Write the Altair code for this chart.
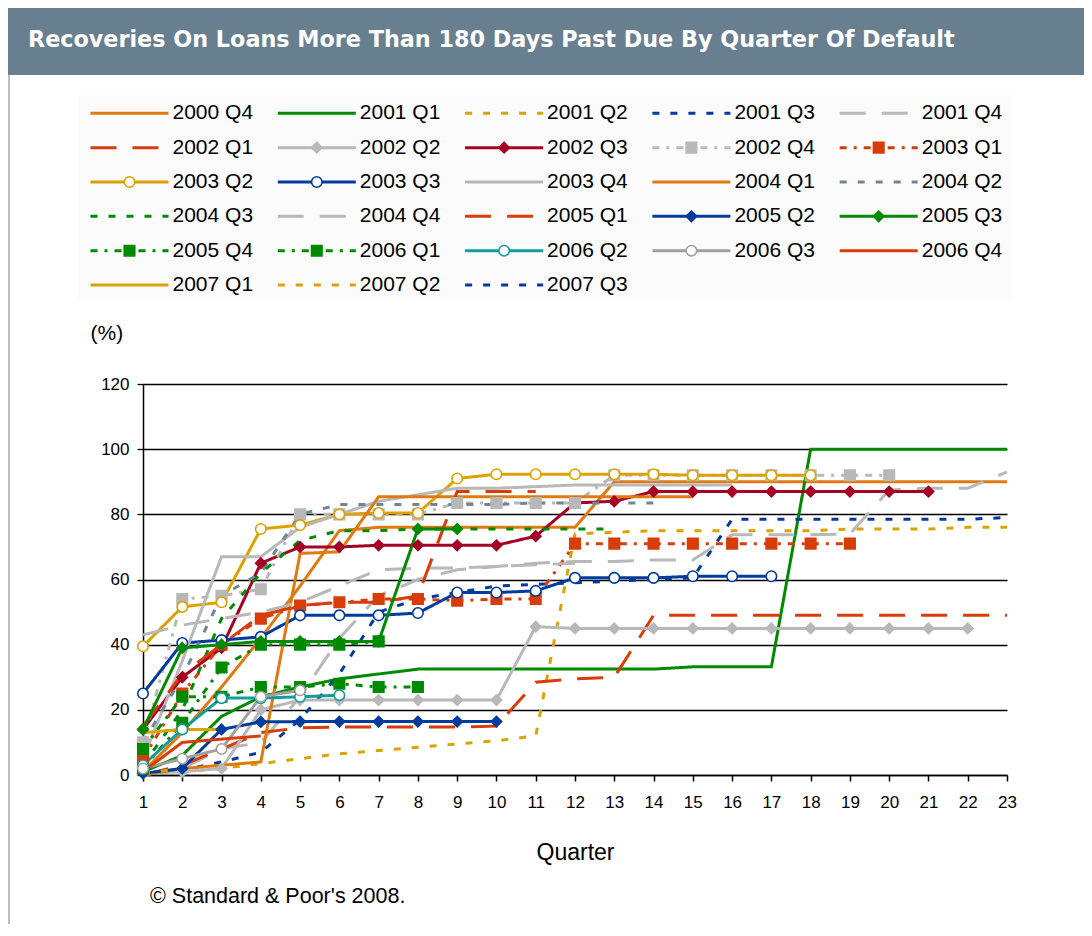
import altair as alt
import pandas as pd

# ---------------- data ----------------
series_names = [
    "2000 Q4", "2001 Q1", "2001 Q2", "2001 Q3", "2001 Q4",
    "2002 Q1", "2002 Q2", "2002 Q3", "2002 Q4", "2003 Q1",
    "2003 Q2", "2003 Q3", "2003 Q4", "2004 Q1", "2004 Q2",
    "2004 Q3", "2004 Q4", "2005 Q1", "2005 Q2", "2005 Q3",
    "2005 Q4", "2006 Q1", "2006 Q2", "2006 Q3", "2006 Q4",
    "2007 Q1", "2007 Q2", "2007 Q3",
]

v_2000q4 = [1, 13, 27, 42, 58, 75, 76, 76, 76, 76, 76, 76, 90, 90, 90, 90, 90, 90, 90, 90, 90, 90, 90]
v_2001q1 = [1, 6, 18, 24, 27, 29.5, 31, 32.5, 32.5, 32.5, 32.5, 32.5, 32.5, 32.5, 33.2, 33.2, 33.2, 100, 100, 100, 100, 100, 100]
v_2001q2 = [0.5, 1, 2, 3.5, 5, 6.5, 7.5, 8.5, 9.5, 10.5, 12, 74, 74.5, 75, 75, 75, 75, 75, 75.5, 75.5, 75.5, 76, 76]
v_2001q3 = [0.5, 1.5, 4, 7, 17, 31, 50, 54, 56, 58, 58.5, 59, 59.5, 60, 60.5, 78.5, 78.5, 78.5, 78.5, 78.5, 78.5, 78.5, 79]
v_2001q4 = [0, 2, 8, 10, 24, 42, 55, 60, 63, 64, 65, 65.5, 65.5, 66, 66, 73.7, 73.7, 73.7, 74, 87.5, 88, 88, 93]
v_2002q1 = [0, 3, 8, 13, 14.5, 14.7, 14.7, 14.7, 14.7, 15, 28.5, 29.5, 30, 49, 49, 49, 49, 49, 49, 49, 49, 49, 49]
v_2002q2 = [0.5, 1, 2, 20, 23, 23, 23, 23, 23, 23, 45.5, 45, 45, 45, 45, 45, 45, 45, 45, 45, 45, 45]
v_2002q3 = [14, 30, 39, 65, 70, 70, 70.5, 70.5, 70.5, 70.5, 73.3, 83.5, 84, 87, 87, 87, 87, 87, 87, 87, 87]
v_2002q4 = [10, 54, 55, 57, 80, 80, 80, 80, 83.5, 83.5, 83.5, 83.5, 92, 92, 92, 92, 92, 92, 92, 92]
v_2003q1 = [5, 25, 40, 48, 52, 53, 54, 54, 53.5, 54, 54, 71, 71, 71, 71, 71, 71, 71, 71]
v_2003q2 = [39.5, 51.6, 53, 75.5, 76.7, 80, 80.4, 80.4, 91, 92.3, 92.3, 92.3, 92.3, 92.3, 92, 92, 92, 92]
v_2003q3 = [25, 40.5, 41.4, 42.4, 49, 49, 49, 49.7, 56, 56, 56.5, 60.5, 60.5, 60.5, 61, 61, 61]
v_2003q4 = [5, 35, 67, 67, 76, 80, 84, 86, 88, 88, 88.5, 89, 89, 89, 89, 89]
v_2004q1 = [0, 2, 3, 4, 68, 68.5, 85.4, 85.4, 85.4, 85.4, 85.4, 85.4, 85.4, 85.4, 85.4]
v_2004q2 = [10, 30, 55, 62, 80, 83, 83, 83, 83, 83, 83.5, 83.5, 83.5, 83.5]
v_2004q3 = [3, 20, 48, 62, 72, 75, 75, 75.5, 75.5, 75.5, 75.5, 75.5, 75.5]
v_2004q4 = [43, 46, 48, 50, 53, 58, 63, 63.5, 63.5, 64, 64.5, 65]
v_2005q1 = [15, 31, 40, 49, 52, 53, 53, 55, 87, 87, 87]
v_2005q2 = [0.5, 2, 14, 16.3, 16.4, 16.4, 16.4, 16.4, 16.4, 16.4]
v_2005q3 = [14, 39, 40, 41, 41, 41, 41, 75.5, 75.5]
v_2005q4 = [8, 24, 24, 27, 27, 28, 27, 27]
v_2006q1 = [2, 16, 33, 40, 40, 40, 41]
v_2006q2 = [3, 14, 23.6, 23.6, 24, 24.5]
v_2006q3 = [2, 5, 8, 24, 26]
v_2006q4 = [1, 10, 11, 12]
v_2007q1 = [13, 14, 14]
v_2007q2 = [0.5, 2]
v_2007q3 = [1]

all_values = [
    v_2000q4, v_2001q1, v_2001q2, v_2001q3, v_2001q4,
    v_2002q1, v_2002q2, v_2002q3, v_2002q4, v_2003q1,
    v_2003q2, v_2003q3, v_2003q4, v_2004q1, v_2004q2,
    v_2004q3, v_2004q4, v_2005q1, v_2005q2, v_2005q3,
    v_2005q4, v_2006q1, v_2006q2, v_2006q3, v_2006q4,
    v_2007q1, v_2007q2, v_2007q3,
]

x_tick_values = list(range(1, 24))
y_tick_values = [0, 20, 40, 60, 80, 100, 120]

# ---------------- styles ----------------
ORANGE = "#E07A10"
GREEN = "#008A00"
GOLD = "#DCA200"
BLUE = "#003C9E"
GRAY = "#B8B8B8"
GRAY2 = "#A0A0A0"
REDOR = "#D83C08"
CRIMSON = "#A50025"
SLATE = "#6E8797"
TEAL = "#149C9C"

DASHES = {"solid": [1, 0], "dot": [7, 11], "long": [26, 16], "dashdot": [7, 7, 3, 7]}

# name: (color, dash, marker shape, marker fill)
style = {
    "2000 Q4": (ORANGE, "solid", None, None),
    "2001 Q1": (GREEN, "solid", None, None),
    "2001 Q2": (GOLD, "dot", None, None),
    "2001 Q3": (BLUE, "dot", None, None),
    "2001 Q4": (GRAY, "long", None, None),
    "2002 Q1": (REDOR, "long", None, None),
    "2002 Q2": (GRAY, "solid", "diamond", GRAY),
    "2002 Q3": (CRIMSON, "solid", "diamond", CRIMSON),
    "2002 Q4": (GRAY, "dashdot", "square", GRAY),
    "2003 Q1": (REDOR, "dashdot", "square", REDOR),
    "2003 Q2": (GOLD, "solid", "circle", "white"),
    "2003 Q3": (BLUE, "solid", "circle", "white"),
    "2003 Q4": (GRAY, "solid", None, None),
    "2004 Q1": (ORANGE, "solid", None, None),
    "2004 Q2": (SLATE, "dot", None, None),
    "2004 Q3": (GREEN, "dot", None, None),
    "2004 Q4": (GRAY, "long", None, None),
    "2005 Q1": (REDOR, "long", None, None),
    "2005 Q2": (BLUE, "solid", "diamond", BLUE),
    "2005 Q3": (GREEN, "solid", "diamond", GREEN),
    "2005 Q4": (GREEN, "dashdot", "square", GREEN),
    "2006 Q1": (GREEN, "dashdot", "square", GREEN),
    "2006 Q2": (TEAL, "solid", "circle", "white"),
    "2006 Q3": (GRAY2, "solid", "circle", "white"),
    "2006 Q4": (REDOR, "solid", None, None),
    "2007 Q1": (GOLD, "solid", None, None),
    "2007 Q2": (GOLD, "dot", None, None),
    "2007 Q3": (BLUE, "dot", None, None),
}
MARKER_SIZE = {"diamond": 110, "square": 95, "circle": 70}

colors = [style[n][0] for n in series_names]
dashes = [DASHES[style[n][1]] for n in series_names]
mk_names = [n for n in series_names if style[n][2]]
mk_shapes = [style[n][2] for n in mk_names]
mk_fills = [style[n][3] for n in mk_names]
mk_strokes = [style[n][0] for n in mk_names]
mk_sizes = [MARKER_SIZE[style[n][2]] for n in mk_names]

FONT = "Liberation Sans"
TITLE_FONT = "DejaVu Sans"
W, H = 864, 391

rows = []
for name, vals in zip(series_names, all_values):
    for i, v in enumerate(vals):
        rows.append({"series": name, "quarter": i + 1, "value": v,
                     "marker": bool(style[name][2])})
df = pd.DataFrame(rows)

leg = pd.DataFrame({"series": series_names,
                    "col": [i % 5 for i in range(len(series_names))],
                    "row": [i // 5 for i in range(len(series_names))],
                    "marker": [bool(style[n][2]) for n in series_names]})

color_enc = alt.Color("series:N", scale=alt.Scale(domain=series_names, range=colors), legend=None)
dash_enc = alt.StrokeDash("series:N", scale=alt.Scale(domain=series_names, range=dashes), legend=None)
shape_enc = alt.Shape("series:N", scale=alt.Scale(domain=mk_names, range=mk_shapes), legend=None)
fill_enc = alt.Fill("series:N", scale=alt.Scale(domain=mk_names, range=mk_fills), legend=None)
stroke_enc = alt.Stroke("series:N", scale=alt.Scale(domain=mk_names, range=mk_strokes), legend=None)
size_enc = alt.Size("series:N", scale=alt.Scale(domain=mk_names, range=mk_sizes), legend=None)

x_axis = alt.Axis(values=x_tick_values, format="d", grid=False, tickSize=6,
                  labelOverlap=False, labelFlush=False, tickCount=23,
                  tickColor="black", tickWidth=1.5, domainColor="black", domainWidth=1.5,
                  labelColor="black", labelFont=FONT, labelFontSize=17, labelPadding=13,
                  titleFont=FONT, titleFontSize=23, titleFontWeight="normal",
                  titleColor="black", titleY=77, titleBaseline="middle")
y_axis = alt.Axis(values=y_tick_values, grid=True, gridColor="black", gridWidth=1.3,
                  tickSize=6, tickColor="black", tickWidth=1.3,
                  domainColor="black", domainWidth=1.5,
                  labelColor="black", labelFont=FONT, labelFontSize=17, labelPadding=8,
                  titleFont=FONT, titleFontSize=21, titleFontWeight="normal",
                  titleColor="black", titleAngle=0, titleX=-53, titleY=-51,
                  titleAlign="left", titleBaseline="middle")

base = alt.Chart(df).encode(
    x=alt.X("quarter:Q", scale=alt.Scale(domain=[1, 23], nice=False), title="Quarter", axis=x_axis),
    y=alt.Y("value:Q", scale=alt.Scale(domain=[0, 120], nice=False), title="(%)", axis=y_axis),
)

lines = base.mark_line(strokeWidth=3, strokeCap="butt", strokeJoin="miter").encode(
    color=color_enc, strokeDash=dash_enc)

points = base.transform_filter("datum.marker").mark_point(
    filled=True, strokeWidth=1.6, opacity=1).encode(
    shape=shape_enc, fill=fill_enc, stroke=stroke_enc, size=size_enc)

main = alt.layer(lines, points)

# ---- legend drawn as its own layer (own scales) ----
COL_DX, COL_X0 = 187.3, -52.5
ROW_DY, ROW_Y0 = 34.35, -270.7
lx_d0 = -COL_X0 / COL_DX
lx_d1 = lx_d0 + W / COL_DX
ly_d0 = -ROW_Y0 / ROW_DY
ly_d1 = ly_d0 + H / ROW_DY
lxs = alt.Scale(domain=[lx_d0, lx_d1], nice=False, zero=False)
lys = alt.Scale(domain=[ly_d0, ly_d1], nice=False, zero=False, reverse=True)
SEG = 78 / COL_DX

leg_base = alt.Chart(leg).transform_calculate(
    x0="datum.col", x1=f"datum.col + {SEG}", xm=f"datum.col + {SEG / 2}",
    xt=f"datum.col + {82 / COL_DX}")

leg_bg = alt.Chart(pd.DataFrame({"d": [0]})).mark_rect(color="#FBFBFB").encode(
    x=alt.value(-65), x2=alt.value(869), y=alt.value(-289), y2=alt.value(-84))

leg_rules = leg_base.mark_rule(strokeWidth=3, strokeCap="butt").encode(
    x=alt.X("x0:Q", scale=lxs, axis=None), x2="x1:Q",
    y=alt.Y("row:Q", scale=lys, axis=None),
    color=color_enc, strokeDash=dash_enc)

leg_pts = leg_base.transform_filter("datum.marker").mark_point(filled=True, strokeWidth=1.6, opacity=1).encode(
    x=alt.X("xm:Q", scale=lxs, axis=None),
    y=alt.Y("row:Q", scale=lys, axis=None),
    shape=shape_enc, fill=fill_enc, stroke=stroke_enc, size=size_enc)

leg_text = leg_base.mark_text(align="left", baseline="middle", font=FONT, fontSize=21, color="black").encode(
    x=alt.X("xt:Q", scale=lxs, axis=None),
    y=alt.Y("row:Q", scale=lys, axis=None),
    text="series:N")

legend = alt.layer(leg_rules, leg_pts, leg_text)

# ---- decorations ----
one = pd.DataFrame({"d": [0]})
banner = alt.Chart(one).mark_rect(color="#687F90").encode(
    x=alt.value(-135), x2=alt.value(941), y=alt.value(-376), y2=alt.value(-309))
banner_text = alt.Chart(one).mark_text(
    text="Recoveries On Loans More Than 180 Days Past Due By Quarter Of Default",
    align="left", baseline="middle", font=TITLE_FONT, fontSize=22.3, fontWeight="bold", color="white"
).encode(x=alt.value(-115), y=alt.value(-344))
left_border = alt.Chart(one).mark_rule(color="#A8A8A8", strokeWidth=1.5).encode(
    x=alt.value(-134), y=alt.value(-309), y2=alt.value(540))
footnote = alt.Chart(one).mark_text(
    text="© Standard & Poor's 2008.", align="left", baseline="middle",
    font=FONT, fontSize=21.5, color="black"
).encode(x=alt.value(7), y=alt.value(513))

chart = alt.layer(
    banner, banner_text, left_border, leg_bg, main, legend, footnote
).resolve_scale(x="independent", y="independent").properties(
    width=W, height=H, padding=0, background="white"
).configure_view(stroke=None)

chart.save("out.html", embed_options={"renderer": "svg", "actions": False})
